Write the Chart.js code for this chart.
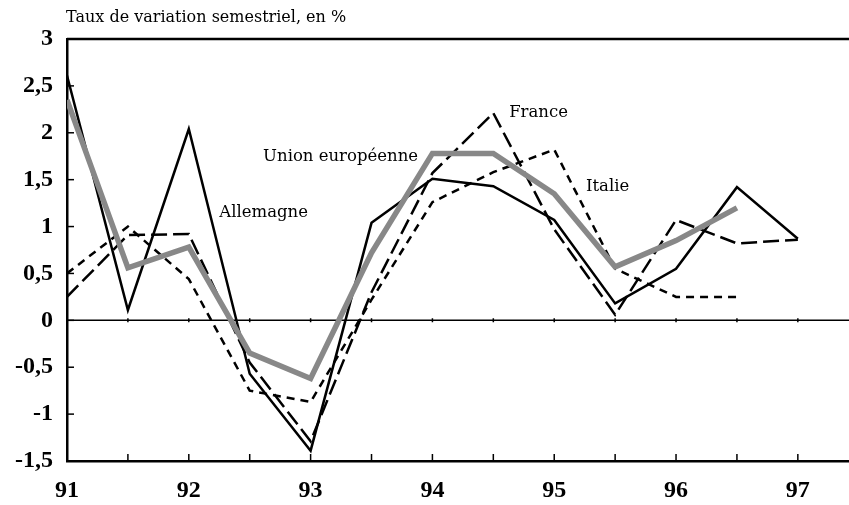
<!DOCTYPE html>
<html lang="fr">
<head>
<meta charset="utf-8">
<title>Taux de variation semestriel</title>
<script src="https://cdn.jsdelivr.net/npm/chart.js@4.4.1/dist/chart.umd.min.js"></script>
<style>
  html, body { margin: 0; padding: 0; background: #fff; }
  #cadre { position: relative; width: 849px; height: 505px; }
</style>
</head>
<body>
<div id="cadre"><canvas id="graphique" width="849" height="505"></canvas></div>
<script>
// ======= Données =======
const semestres = [91, 91.5, 92, 92.5, 93, 93.5, 94, 94.5, 95, 95.5, 96, 96.5, 97];
const allemagne = [2.61, 0.11, 2.04, -0.57, -1.39, 1.04, 1.51, 1.43, 1.07, 0.18, 0.55, 1.42, 0.87];
const france = [0.25, 0.91, 0.92, -0.45, -1.29, 0.3, 1.57, 2.21, 0.97, 0.06, 1.07, 0.82, 0.86];
const italie = [0.5, 1.0, 0.44, -0.75, -0.87, 0.22, 1.26, 1.58, 1.82, 0.55, 0.25, 0.25, null];
const unionEuropeenne = [2.35, 0.56, 0.78, -0.35, -0.62, 0.72, 1.78, 1.78, 1.35, 0.57, 0.85, 1.2, null];
const anneesX = [91, 92, 93, 94, 95, 96, 97];
const graduationsY = [-1.5, -1, -0.5, 0, 0.5, 1, 1.5, 2, 2.5, 3];

const titre = "Taux de variation semestriel, en %";
// étiquettes posées sur le graphique (ancrées en coordonnées de données)
const etiquettes = [
  { texte: "France", x: 94.63, y: 2.21 },
  { texte: "Union européenne", x: 92.61, y: 1.75 },
  { texte: "Allemagne", x: 92.25, y: 1.15 },
  { texte: "Italie", x: 95.26, y: 1.43 }
];

const policeAxes = "'Liberation Serif', 'DejaVu Serif', serif";
const policeTexte = "'DejaVu Serif', 'Liberation Serif', serif";

function serie(valeurs) {
  return semestres.map((s, i) => ({ x: s, y: valeurs[i] }));
}

// ======= Décor : cadre, ligne du zéro, graduations internes, textes =======
const decor = {
  id: "decor",
  beforeDatasetsDraw(chart) {
    const { ctx, chartArea: a, scales: { x, y } } = chart;
    ctx.save();
    ctx.strokeStyle = "#000";

    // ligne du haut
    ctx.lineWidth = 2.5;
    ctx.beginPath();
    ctx.moveTo(a.left, a.top);
    ctx.lineTo(a.right, a.top);
    ctx.stroke();

    // ligne du zéro
    const y0 = y.getPixelForValue(0);
    ctx.lineWidth = 1.5;
    ctx.beginPath();
    ctx.moveTo(a.left, y0);
    ctx.lineTo(a.right, y0);
    ctx.stroke();

    // graduations vers l'intérieur
    ctx.lineWidth = 1.5;
    x.ticks.forEach(t => {
      const px = x.getPixelForValue(t.value);
      ctx.beginPath();
      ctx.moveTo(px, a.bottom);
      ctx.lineTo(px, a.bottom - 7);
      ctx.moveTo(px, y0 - 2);
      ctx.lineTo(px, y0 + 2);
      ctx.stroke();
    });
    y.ticks.forEach(t => {
      const py = y.getPixelForValue(t.value);
      ctx.beginPath();
      ctx.moveTo(a.left, py);
      ctx.lineTo(a.left + 7, py);
      ctx.stroke();
    });
    ctx.restore();
  },
  afterDraw(chart) {
    const { ctx, chartArea: a, scales: { x, y } } = chart;
    ctx.save();
    ctx.fillStyle = "#000";
    ctx.textBaseline = "middle";
    ctx.textAlign = "left";
    ctx.font = "16px " + policeTexte;
    ctx.fillText(titre, a.left - 1, 18);

    ctx.font = "16.5px " + policeTexte;
    etiquettes.forEach(e => {
      ctx.fillText(e.texte, x.getPixelForValue(e.x), y.getPixelForValue(e.y));
    });
    ctx.restore();
  }
};

// ======= Graphique =======
new Chart(document.getElementById("graphique"), {
  type: "line",
  data: {
    datasets: [
      {
        label: "Union européenne",
        data: serie(unionEuropeenne),
        borderColor: "#888888",
        borderWidth: 5.5,
        borderJoinStyle: "miter",
        borderCapStyle: "butt"
      },
      {
        label: "Allemagne",
        data: serie(allemagne),
        borderColor: "#000",
        borderWidth: 2.5
      },
      {
        label: "France",
        data: serie(france),
        borderColor: "#000",
        borderWidth: 2.5,
        borderDash: [16, 6]
      },
      {
        label: "Italie",
        data: serie(italie),
        borderColor: "#000",
        borderWidth: 2.5,
        borderDash: [8, 6]
      }
    ]
  },
  options: {
    responsive: false,
    animation: false,
    spanGaps: false,
    elements: {
      point: { radius: 0, hoverRadius: 0 },
      line: { tension: 0, fill: false }
    },
    layout: { padding: { top: 39, right: 0, left: 0, bottom: 0 } },
    plugins: {
      legend: { display: false },
      tooltip: { enabled: false },
      title: { display: false }
    },
    scales: {
      x: {
        type: "linear",
        min: 91,
        max: 97.42,
        afterFit: s => { s.height = 44; },
        grid: { display: true, drawOnChartArea: false, drawTicks: false },
        border: { display: true, color: "#000", width: 2.5 },
        ticks: {
          stepSize: 0.5,
          includeBounds: false,
          autoSkip: false,
          maxRotation: 0,
          padding: 15,
          color: "#000",
          font: { family: policeAxes, size: 24, weight: "bold" },
          callback: v => anneesX.includes(v) ? String(v) : ""
        }
      },
      y: {
        min: -1.5,
        max: 3,
        afterFit: s => { s.width = 67; },
        afterBuildTicks: s => { s.ticks = graduationsY.map(v => ({ value: v })); },
        grid: { display: true, drawOnChartArea: false, drawTicks: false },
        border: { display: true, color: "#000", width: 2.5 },
        ticks: {
          autoSkip: false,
          padding: 14,
          color: "#000",
          font: { family: policeAxes, size: 24, weight: "bold" },
          callback: v => String(v).replace(".", ",")
        }
      }
    }
  },
  plugins: [decor]
});
</script>
</body>
</html>
